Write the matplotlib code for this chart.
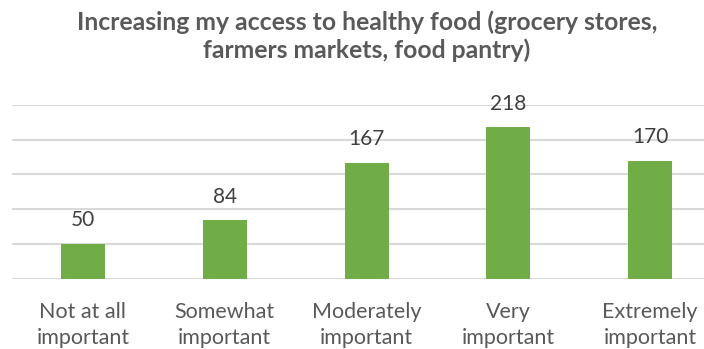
import matplotlib
matplotlib.use("Agg")
import matplotlib.pyplot as plt

categories = ["Not at all\nimportant", "Somewhat\nimportant", "Moderately\nimportant",
              "Very\nimportant", "Extremely\nimportant"]
values = [50, 84, 167, 218, 170]
y_ticks = [0, 50, 100, 150, 200, 250]
title = "Increasing my access to healthy food (grocery stores,\nfarmers markets, food pantry)"

plt.rcParams["font.family"] = ["Lato", "DejaVu Sans"]

W, H = 704, 349
fig = plt.figure(figsize=(W / 100, H / 100), dpi=100)
ax = fig.add_axes([12 / W, (H - 278.7) / H, (W - 12) / W, (278.7 - 105) / H])

x = list(range(len(values)))
ax.bar(x, values, width=0.31, color="#70AD47", zorder=3)

ax.set_ylim(0, 250)
ax.set_xlim(-0.5, (W - 83) / 141.8)
ax.set_yticks(y_ticks)
ax.yaxis.grid(True, color="#D9D9D9", linewidth=1.5)
ax.tick_params(axis="y", left=False, labelleft=False)
ax.set_xticks(x)
ax.set_xticklabels(categories, fontsize=15.5, color="#595959", linespacing=1.4)
ax.tick_params(axis="x", bottom=False, pad=13)
for s in ax.spines.values():
    s.set_visible(False)

for xi, v in zip(x, values):
    ax.annotate(str(v), (xi, v), xytext=(0, 12.7), textcoords="offset points",
                ha="center", va="baseline", fontsize=15, color="#404040")

fig.text(367 / W, 1 - 10 / H, title, ha="center", va="top", fontsize=17.8,
         fontweight="bold", color="#595959", linespacing=1.25)

fig.savefig("out.png", dpi=100)
